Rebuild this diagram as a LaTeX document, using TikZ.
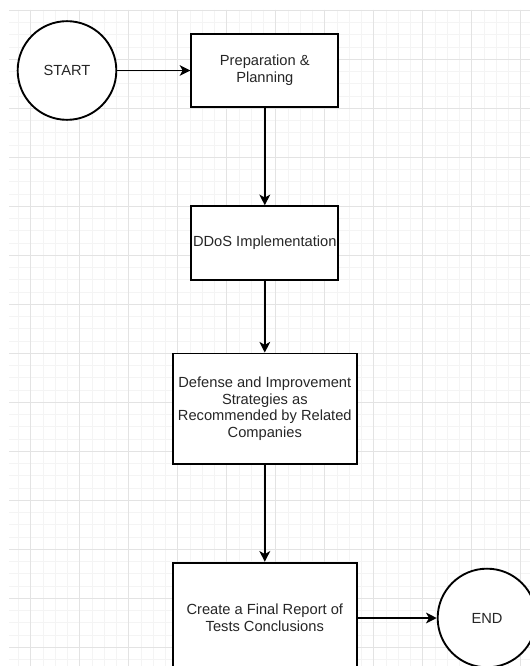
\documentclass[tikz,border=0pt]{standalone}
\usepackage{fontspec}
\setmainfont{Liberation Sans}
\usetikzlibrary{arrows.meta}

\begin{document}
\begin{tikzpicture}[x=0.75pt,y=-0.75pt,
    minorline/.style={gray!9,line width=0.6pt},
    majorline/.style={gray!22,line width=0.6pt},
    stepbox/.style={draw,line width=1.4pt,fill=white,align=center,inner sep=0pt,
        font=\fontsize{11}{12.5}\selectfont,text=black!85},
    term/.style={draw,circle,line width=1.4pt,fill=white,minimum size=74pt,inner sep=0pt,
        font=\fontsize{11}{12.5}\selectfont,text=black!85},
    arr/.style={-{Stealth[length=8pt,width=8pt,inset=2.2pt]},line width=1.4pt}]
    \useasboundingbox (0,0) rectangle (530,666);
    \clip (0,0) rectangle (530,666);
    \fill[white] (0,0) rectangle (530,666);
    % background grid
    \foreach \k in {1,...,42}{
        \draw[minorline] ({6.2+12.25*\k},10) -- ({6.2+12.25*\k},666);
    }
    \foreach \k in {0,...,53}{
        \draw[minorline] (9,{10.3+12.25*\k}) -- (530,{10.3+12.25*\k});
    }
    \foreach \k in {0,...,10}{
        \draw[majorline] ({30.7+49*\k},10) -- ({30.7+49*\k},666);%major x
    }
    \foreach \k in {0,...,13}{
        \draw[majorline] (9,{10.3+49*\k}) -- (530,{10.3+49*\k});%major y
    }
    % flow
    \node[term] (start) at (67,70.5) {START};
    \node[stepbox,minimum width=110.25pt,minimum height=55.1pt] (prep) at (264.8,70.5)
        {Preparation \&\\Planning};
    \node[stepbox,minimum width=110.25pt,minimum height=55.1pt] (ddos) at (264.8,243)
        {DDoS Implementation};
    \node[stepbox,minimum width=138pt,minimum height=82.9pt] (defense) at (264.8,408.8)
        {Defense and Improvement\\Strategies as\\Recommended by Related\\Companies};
    \node[stepbox,minimum width=138pt,minimum height=82.9pt] (report) at (264.8,618)
        {Create a Final Report of\\Tests Conclusions};
    \node[term] (finish) at (487,618) {END};
    \draw[arr] (start) -- (prep);
    \draw[arr] (prep) -- (ddos);
    \draw[arr] (ddos) -- (defense);
    \draw[arr] (defense) -- (report);
    \draw[arr] (report) -- (finish);
\end{tikzpicture}
\end{document}
